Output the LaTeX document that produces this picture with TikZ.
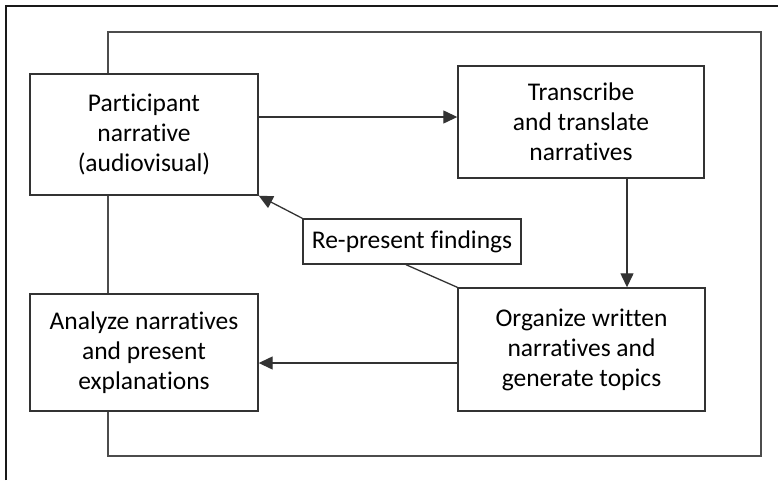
\documentclass[tikz,border=0pt]{standalone}
\usepackage{fontspec}
\setmainfont[Ligatures=NoCommon]{Carlito}
\usetikzlibrary{arrows.meta}

\tikzset{
  stage/.style={draw=black!80, line width=1.4pt, align=center, inner sep=0pt,
    text=black, font=\fontsize{25.5}{30}\selectfont},
  link/.style={draw=black!80, line width=1.3pt},
  arr/.style={link, -{Triangle[length=14pt,width=13pt]}},
  loopline/.style={draw=black!70, line width=1.5pt}
}

\begin{document}
\begin{tikzpicture}[x=1pt, y=-1pt]
  \useasboundingbox (0,0) rectangle (778,480);

  % frame of the page (top and left only)
  \draw[black!90, line width=2.2pt] (6,480) -- (6,6) -- (778,6);

  % stages
  \node[stage, minimum width=228pt, minimum height=121pt] (P) at (144,134.5) {Participant\\narrative\\(audiovisual)};
  \node[stage, minimum width=246pt, minimum height=112pt] (T) at (581,122) {Transcribe\\and translate\\narratives};
  \node[stage, minimum width=218pt, minimum height=45pt] (R) at (412,241.5) {Re-present findings};
  \node[stage, minimum width=247pt, minimum height=123pt] (O) at (581.5,349.5) {Organize written\\narratives and\\generate topics};
  \node[stage, minimum width=228pt, minimum height=117pt] (A) at (144,352.5) {Analyze narratives\\and present\\explanations};

  % corners of the loop
  \coordinate (tl) at (108,32);
  \coordinate (br) at (761,456);

  % loop round the cycle
  \draw[loopline] (tl |- P.north) -- (tl) -- (tl -| br) -- (br) -- (br -| tl) -- (tl |- A.south);
  \draw[loopline] (tl |- P.south) -- (tl |- A.north);

  % flow
  \draw[arr] ([yshift=17.5pt]P.east) -- ([yshift=17.5pt]P.east -| T.west);
  \draw[arr] ([xshift=46pt]T.south) -- ([xshift=46pt]T.south |- O.north);
  \draw[arr] ([yshift=-13.5pt]O.west) -- ([yshift=-13.5pt]O.west -| A.east);
  \draw[arr] (R.north west) -- (P.south east);
  \draw[link] ([xshift=-6pt]R.south) -- (O.north west);
\end{tikzpicture}
\end{document}
